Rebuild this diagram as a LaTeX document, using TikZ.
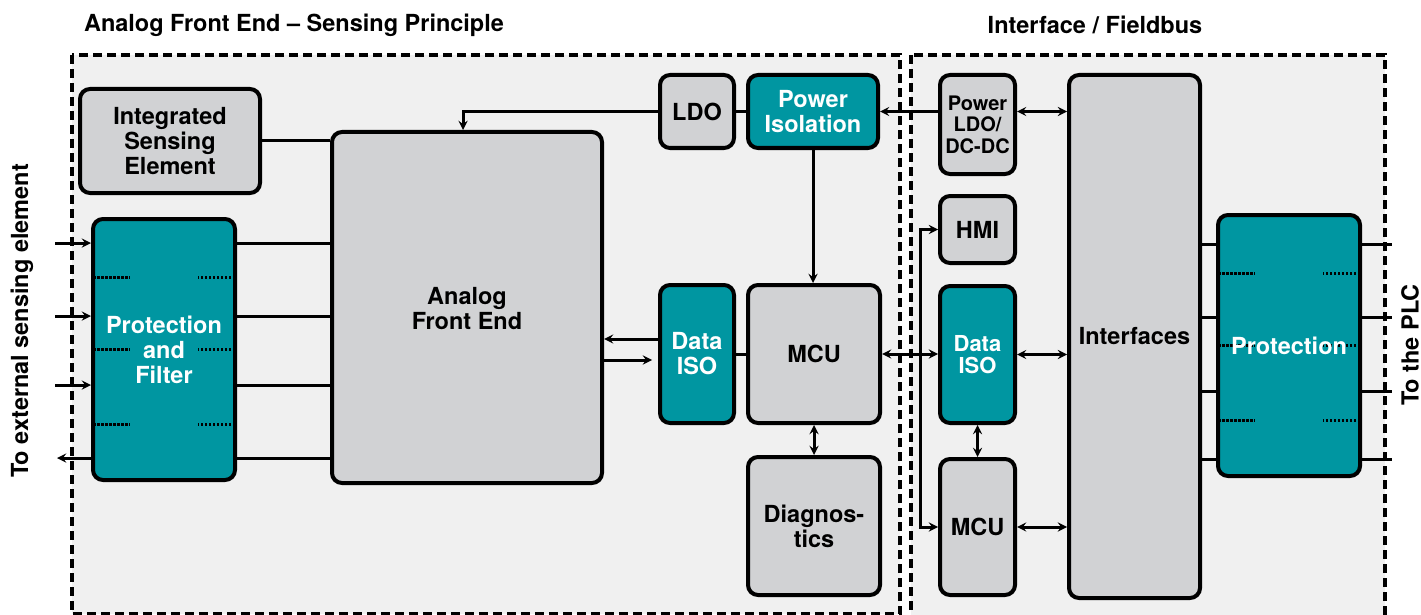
\documentclass[tikz,border=0pt]{standalone}
\usepackage{fontspec}
\setmainfont{TeX Gyre Heros}
\usepackage{xcolor}
\usepackage{tikz}
\usetikzlibrary{arrows}
\definecolor{boxgray}{HTML}{D1D2D4}
\definecolor{isoteal}{HTML}{0096A1}
\definecolor{zonegray}{HTML}{F0F0F0}
\newcommand{\boxfont}{\fontsize{23.5}{25}\selectfont\bfseries}
\tikzstyle{block} = [rectangle, rounded corners=10pt, draw=black, line width=4pt, fill=boxgray, text centered, align=center, inner sep=0pt, font=\boxfont]
\tikzstyle{isoblock} = [block, fill=isoteal, text=white]
\tikzstyle{zone} = [draw=black, line width=3.5pt, dash pattern=on 9pt off 5pt, fill=zonegray]
\tikzstyle{dotline} = [line width=3pt, dash pattern=on 2.5pt off 1.5pt]
\tikzstyle{wire} = [line width=3pt]
\tikzstyle{arrow} = [line width=3pt,->,>=stealth]
\tikzstyle{dblarrow} = [line width=3pt,<->,>=stealth]
% dotted marks inside the protection blocks, under the text
\tikzstyle{prongs} = [path picture={
   \foreach \dy in {72,0,-75} {
      \draw[dotline] ([yshift=\dy pt]path picture bounding box.west) -- ++(37,0);
      \draw[dotline] ([yshift=\dy pt]path picture bounding box.east) -- ++(-37,0);
   }}]

\begin{document}
\begin{tikzpicture}[x=1pt,y=-1pt]
   \clip (0,0) rectangle (1421,615);
   \fill[white] (0,0) rectangle (1421,615);
   % zones
   \draw[zone] (72,55) rectangle (900,614);
   \draw[zone] (911,55) rectangle (1385,630);
   \node (hl) at (294,25) {\boxfont Analog Front End -- Sensing Principle};
   \node (hr) at (1095,25) {\boxfont Interface / Fieldbus};
   \node (ext) [rotate=90] at (22,321) {\boxfont To external sensing element};
   \node (plc) [rotate=90] at (1410,345) {\boxfont To the PLC};
   % sensing side
   \node (ise) [block, minimum width=180pt, minimum height=104pt] at (170,141) {Integrated\\Sensing\\Element};
   \node (pf) [isoblock, prongs, minimum width=142pt, minimum height=261pt] at (164,349.5) {Protection\\and\\Filter};
   \node (afe) [block, minimum width=270pt, minimum height=351pt] at (467,307.5) {\\[-6pt]Analog\\Front End};
   \node (ldo) [block, minimum width=74pt, minimum height=73pt] at (697,111.5) {LDO};
   \node (piso) [isoblock, minimum width=130pt, minimum height=73pt] at (813,111.5) {Power\\Isolation};
   \node (diso) [isoblock, minimum width=74pt, minimum height=138pt] at (697,354) {Data\\ISO};
   \node (mcu) [block, minimum width=132pt, minimum height=138pt] at (814,354) {MCU};
   \node (diag) [block, minimum width=132pt, minimum height=138pt] at (814,526) {Diagnos-\\tics};
   % fieldbus side
   \node (pldo) [block, minimum width=75pt, minimum height=99pt, font=\fontsize{20}{21.5}\selectfont\bfseries] at (977.5,124.5) {Power\\LDO/\\DC-DC};
   \node (hmi) [block, minimum width=75pt, minimum height=67pt] at (977.5,229.5) {HMI};
   \node (diso2) [isoblock, minimum width=75pt, minimum height=137pt, font=\fontsize{22}{22}\selectfont\bfseries] at (977.5,354.5) {Data\\ISO};
   \node (mcu2) [block, minimum width=75pt, minimum height=136pt] at (977.5,527) {MCU};
   \node (intf) [block, minimum width=131pt, minimum height=523pt] at (1134.5,336.5) {Interfaces};
   \node (prot) [isoblock, prongs, minimum width=142pt, minimum height=261pt] at (1289,345.5) {Protection};
   % sensing element lines
   \coordinate (i1) at (55,243);
   \coordinate (i2) at (55,316);
   \coordinate (i3) at (55,385);
   \coordinate (i4) at (57,458);
   \draw [arrow] (i1) -- (i1 -| pf.west);
   \draw [arrow] (i2) -- (i2 -| pf.west);
   \draw [arrow] (i3) -- (i3 -| pf.west);
   \draw [arrow] (i4 -| pf.west) -- (i4);
   \foreach \c in {i1,i2,i3,i4}
      \draw [wire] (\c -| pf.east) -- (\c -| afe.west);
   \draw [wire] (ise.east) -- (ise.east -| afe.west);
   % power path
   \draw [arrow] (ldo.west) -| ([xshift=-4pt]afe.north);
   \draw [wire] (ldo.east) -- (piso.west);
   \draw [arrow] (pldo.west |- piso.east) -- (piso.east);
   \draw [dblarrow] (pldo.east |- piso.east) -- (intf.west |- piso.east);
   \draw [arrow] (piso.south) -- (piso.south |- mcu.north);
   % data path
   \draw [arrow] ([yshift=15pt]diso.west) -- ([yshift=15pt]diso.west -| afe.east);
   \draw [arrow] ([yshift=-6pt]diso.west -| afe.east) -- ([yshift=-6pt,xshift=-6pt]diso.west);
   \draw [wire] (diso.east) -- (mcu.west);
   \draw [dblarrow] (mcu.east) -- (mcu.east -| diso2.west);
   \draw [dblarrow] (mcu.south) -- (diag.north);
   \coordinate (br) at (920,355);
   \draw [arrow] (br) |- (hmi.west);
   \draw [arrow] (br) |- (mcu2.west);
   \draw [dblarrow] (diso2.south) -- (mcu2.north);
   \draw [dblarrow] (diso2.east) -- (diso2.east -| intf.west);
   \draw [dblarrow] (mcu2.east) -- (mcu2.east -| intf.west);
   % PLC lines
   \coordinate (o1) at (1392,244);
   \coordinate (o2) at (1392,317);
   \coordinate (o3) at (1392,391);
   \coordinate (o4) at (1392,459);
   \foreach \c in {o1,o2,o3,o4} {
      \draw [wire] (\c -| intf.east) -- (\c -| prot.west);
      \draw [wire] (\c -| prot.east) -- (\c);
   }
\end{tikzpicture}
\end{document}
